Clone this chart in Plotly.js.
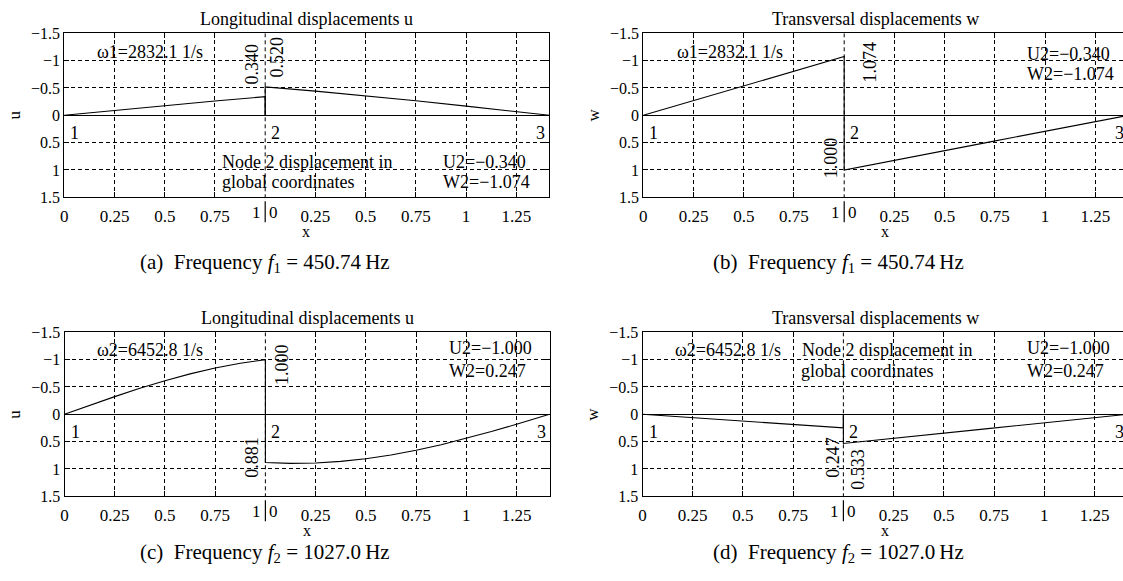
<!DOCTYPE html>
<html>
<head>
<meta charset="utf-8">
<script src="https://cdn.plot.ly/plotly-3.0.1.min.js"></script>
<style>
html,body{margin:0;padding:0;overflow:hidden;background:#fff;width:1123px;height:581px;}
#chart{width:1130px;height:581px;}
</style>
</head>
<body>
<div id="chart"></div>
<script>
// ---------------- data ----------------
const L2 = 1.4142;                     // length of element 2
// local coordinates along each element
const s1Lin = [0, 0.25, 0.5, 0.75, 1];
const s2Lin = [0, 0.25, 0.5, 0.75, 1.0, 1.25, 1.4142];
const s1Fine = [0, 0.125, 0.25, 0.375, 0.5, 0.625, 0.75, 0.875, 1];
const s2Fine = [0, 0.125, 0.25, 0.375, 0.5, 0.625, 0.75, 0.875, 1.0, 1.125, 1.25, 1.4142];
const s1Two = [0, 0.5, 1];
const s2Two = [0, 0.7071, 1.4142];

// (a) mode 1, longitudinal u
const uA1 = [0, -0.089, -0.178, -0.261, -0.340];
const uA2 = [-0.520, -0.443, -0.357, -0.265, -0.167, -0.067, 0];
// (b) mode 1, transversal w
const wB1 = [0, -0.537, -1.074];
const wB2 = [1.000, 0.500, 0];
// (c) mode 2, longitudinal u
const uC1 = [0, -0.164, -0.323, -0.475, -0.615, -0.740, -0.848, -0.935, -1.000];
const uC2 = [0.881, 0.897, 0.890, 0.862, 0.814, 0.745, 0.659, 0.557, 0.442, 0.315, 0.182, 0];
// (d) mode 2, transversal w
const wD1 = [0, 0.124, 0.247];
const wD2 = [0.533, 0.267, 0];

const xTickVals = [0, 0.25, 0.5, 0.75, 1.25, 1.5, 1.75, 2, 2.25];
const xTickText = ['0', '0.25', '0.5', '0.75', '0.25', '0.5', '0.75', '1', '1.25'];
const yTickVals = [-1.5, -1, -0.5, 0, 0.5, 1, 1.5];
const yTickText = ['\u22121.5', '\u22121', '\u22120.5', '0', '0.5', '1', '1.5'];

const titles = ['Longitudinal displacements u', 'Transversal displacements w',
                'Longitudinal displacements u', 'Transversal displacements w'];
const yLabels = ['u', 'w', 'u', 'w'];
const captions = [
  '(a)  Frequency <i>f</i><sub>1</sub>\u00a0=\u00a0450.74\u2009Hz',
  '(b)  Frequency <i>f</i><sub>1</sub>\u00a0=\u00a0450.74\u2009Hz',
  '(c)  Frequency <i>f</i><sub>2</sub>\u00a0=\u00a01027.0\u2009Hz',
  '(d)  Frequency <i>f</i><sub>2</sub>\u00a0=\u00a01027.0\u2009Hz'
];

// ---------------- layout geometry (pixels) ----------------
const W = 1130, H = 581;
const FONT = 'Liberation Serif, Times New Roman, serif';
const panels = [
  {x0: 64.3,  y0: 33.3,  s1: s1Lin,  v1: uA1, s2: s2Lin,  v2: uA2},
  {x0: 643.3, y0: 33.3,  s1: s1Two,  v1: wB1, s2: s2Two,  v2: wB2},
  {x0: 64.5,  y0: 332.3, s1: s1Fine, v1: uC1, s2: s2Fine, v2: uC2},
  {x0: 642.5, y0: 332.3, s1: s1Two,  v1: wD1, s2: s2Two,  v2: wD2}
];
const PW = 485, PH = 164;

const data = [];
const layout = {
  width: W, height: H,
  margin: {l: 0, r: 0, t: 0, b: 0},
  paper_bgcolor: '#fff', plot_bgcolor: '#fff',
  showlegend: false,
  font: {family: FONT, size: 16, color: '#000'},
  annotations: [], shapes: []
};

function px2fx(px) { return px / W; }
function py2fy(py) { return 1 - py / H; }

panels.forEach((p, i) => {
  const k = i === 0 ? '' : String(i + 1);
  const xa = 'x' + k, ya = 'y' + k;
  // element 1: curve, then back down to the axis at node 2
  const x1 = p.s1.slice(); x1.push(1);
  const y1 = p.v1.slice(); y1.push(0);
  // element 2: from the axis at node 2, then curve
  const x2 = [1].concat(p.s2.map(s => 1 + s));
  const y2 = [0].concat(p.v2);
  [[x1, y1], [x2, y2]].forEach(([xx, yy]) => {
    data.push({x: xx, y: yy, xaxis: xa, yaxis: ya, type: 'scatter', mode: 'lines',
               line: {color: '#000', width: 1.1}, hoverinfo: 'skip'});
  });
  const common = {
    showgrid: true, gridcolor: '#000', gridwidth: 1, griddash: '4px,3px',
    showline: true, linecolor: '#000', linewidth: 1, mirror: 'ticks',
    ticks: 'inside', ticklen: 5, tickcolor: '#000', tickwidth: 1,
    tickmode: 'array', fixedrange: true
  };
  layout['xaxis' + k] = Object.assign({}, common, {
    domain: [px2fx(p.x0), px2fx(p.x0 + PW)], anchor: ya,
    range: [0, 1 + L2], tickvals: xTickVals, ticktext: xTickText,
    tickfont: {family: FONT, size: 17, color: '#000'},
    zeroline: false, ticklabelstandoff: 3
  });
  layout['yaxis' + k] = Object.assign({}, common, {
    domain: [py2fy(p.y0 + PH), py2fy(p.y0)], anchor: xa,
    range: [1.5, -1.5], tickvals: yTickVals, ticktext: yTickText,
    tickfont: {family: FONT, size: 16, color: '#000'},
    zeroline: true, zerolinecolor: '#000', zerolinewidth: 1
  });
  // dashed grid line at node 2 (x = 1)
  layout.shapes.push({type: 'line', xref: xa, yref: ya, x0: 1, x1: 1, y0: -1.5, y1: 1.5,
    layer: 'below', line: {color: '#000', width: 1, dash: '4px,3px'}});

  const cx = p.x0 + PW / 2;
  // title
  layout.annotations.push({xref: 'paper', yref: 'paper', x: px2fx(i % 2 === 0 ? cx : 875),
    y: py2fy(p.y0 - 14), text: titles[i], showarrow: false,
    font: {family: FONT, size: 18}, xanchor: 'center', yanchor: 'middle'});
  // x label
  layout.annotations.push({xref: 'paper', yref: 'paper', x: px2fx(p.x0 + 242),
    y: py2fy(p.y0 + PH + 34), text: 'x', showarrow: false,
    font: {family: FONT, size: 16}, xanchor: 'center', yanchor: 'middle'});
  // y label
  layout.annotations.push({xref: 'paper', yref: 'paper', x: px2fx(p.x0 - 50),
    y: py2fy(p.y0 + 82), text: yLabels[i], showarrow: false, textangle: -90,
    font: {family: FONT, size: 17}, xanchor: 'center', yanchor: 'middle'});
  // "1 | 0" split tick at node 2
  layout.annotations.push({xref: xa, yref: 'paper', x: 1, xshift: -2,
    y: py2fy(p.y0 + PH + 15), text: '1', showarrow: false,
    font: {family: FONT, size: 17}, xanchor: 'right', yanchor: 'middle'});
  layout.annotations.push({xref: xa, yref: 'paper', x: 1, xshift: 2,
    y: py2fy(p.y0 + PH + 15), text: '0', showarrow: false,
    font: {family: FONT, size: 17}, xanchor: 'left', yanchor: 'middle'});
  layout.shapes.push({type: 'line', xref: xa, yref: 'paper', x0: 1, x1: 1,
    y0: py2fy(p.y0 + PH + 4), y1: py2fy(p.y0 + PH + 25), line: {color: '#000', width: 1.2}});
  // node numbers
  const ny = 0.32;
  layout.annotations.push({xref: xa, yref: ya, x: 0.02, y: ny, text: '1', showarrow: false,
    font: {family: FONT, size: 18}, xanchor: 'left', yanchor: 'middle'});
  layout.annotations.push({xref: xa, yref: ya, x: 1.02, y: ny, text: '2', showarrow: false,
    font: {family: FONT, size: 18}, xanchor: 'left', yanchor: 'middle'});
  layout.annotations.push({xref: xa, yref: ya, x: 2.405, y: ny, text: '3', showarrow: false,
    font: {family: FONT, size: 18}, xanchor: 'right', yanchor: 'middle'});
  // caption
  layout.annotations.push({xref: 'paper', yref: 'paper', x: px2fx(i % 2 === 0 ? 265 : 838),
    y: py2fy(i < 2 ? 263 : 553), text: captions[i], showarrow: false,
    font: {family: FONT, size: 21}, xanchor: 'center', yanchor: 'middle'});
});

// in-plot texts: [panel, x, y, text, xanchor, rotated]
const texts = [
  [0, 0.153, -1.15, '\u03c91=2832.1 1/s', 'left', false],
  [0, 0.935, -0.93, '0.340', 'center', true],
  [0, 1.06, -1.06, '0.520', 'center', true],
  [0, 0.775, 0.86, 'Node 2 displacement in', 'left', false],
  [0, 0.775, 1.22, 'global coordinates', 'left', false],
  [0, 1.875, 0.86, 'U2=\u22120.340', 'left', false],
  [0, 1.875, 1.22, 'W2=\u22121.074', 'left', false],
  [1, 0.158, -1.15, '\u03c91=2832.1 1/s', 'left', false],
  [1, 1.129, -0.97, '1.074', 'center', true],
  [1, 0.938, 0.77, '1.000', 'center', true],
  [1, 1.90, -1.13, 'U2=\u22120.340', 'left', false],
  [1, 1.90, -0.75, 'W2=\u22121.074', 'left', false],
  [2, 0.152, -1.18, '\u03c92=6452.8 1/s', 'left', false],
  [2, 1.083, -0.905, '1.000', 'center', true],
  [2, 0.933, 0.777, '0.881', 'center', true],
  [2, 1.904, -1.215, 'U2=\u22121.000', 'left', false],
  [2, 1.904, -0.795, 'W2=0.247', 'left', false],
  [3, 0.151, -1.18, '\u03c92=6452.8 1/s', 'left', false],
  [3, 0.784, -1.18, 'Node 2 displacement in', 'left', false],
  [3, 0.779, -0.795, 'global coordinates', 'left', false],
  [3, 1.904, -1.215, 'U2=\u22121.000', 'left', false],
  [3, 1.904, -0.795, 'W2=0.247', 'left', false],
  [3, 0.948, 0.777, '0.247', 'center', true],
  [3, 1.073, 1.015, '0.533', 'center', true]
];
texts.forEach(([pi, x, y, t, xa, rot]) => {
  const k = pi === 0 ? '' : String(pi + 1);
  layout.annotations.push({xref: 'x' + k, yref: 'y' + k, x: x, y: y, text: t,
    showarrow: false, xanchor: xa, yanchor: 'middle', textangle: rot ? -90 : 0,
    font: {family: FONT, size: 18}});
});

Plotly.newPlot('chart', data, layout, {displayModeBar: false, staticPlot: true});
</script>
</body>
</html>
